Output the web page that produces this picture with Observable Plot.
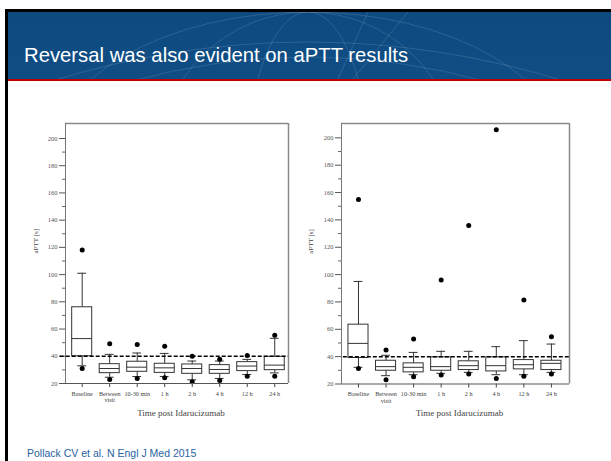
<!DOCTYPE html>
<html>
<head>
<meta charset="utf-8">
<script src="https://cdn.jsdelivr.net/npm/d3@7"></script>
<script src="https://cdn.jsdelivr.net/npm/@observablehq/plot@0.6"></script>
<style>
  html, body { margin: 0; padding: 0; background: #fff; }
  #slide { position: relative; width: 611px; height: 461px; overflow: hidden; background: #fff; }
  .abs { position: absolute; }
  #title { font-family: "Liberation Sans", Arial, sans-serif; font-size: 20.3px; line-height: 24px; color: #fff; white-space: nowrap; }
  #footer { font-family: "Liberation Sans", Arial, sans-serif; font-size: 10.5px; line-height: 12px; color: #2a62a3; white-space: nowrap; }
</style>
</head>
<body>
<div id="slide">
  <div class="abs" style="left:5px;top:9px;width:606px;height:3px;background:#000"></div>
  <div class="abs" style="left:5px;top:9px;width:3px;height:452px;background:#000"></div>
  <div class="abs" id="header" style="left:8px;top:12px;width:603px;height:67px;background:linear-gradient(#0c4a80,#0f4d84);overflow:hidden">
    <svg width="603" height="67" style="position:absolute;left:0;top:0">
      <g fill="none" stroke="rgba(255,255,255,0.13)" stroke-width="1">
        <ellipse cx="300" cy="150" rx="260" ry="150"/>
        <ellipse cx="300" cy="150" rx="150" ry="150"/>
        <ellipse cx="300" cy="150" rx="60" ry="150"/>
        <path d="M40,70 Q300,-10 560,70"/>
        <path d="M120,70 Q300,20 480,70"/>
        <path d="M360,0 L330,67"/>
        <path d="M400,0 L345,67"/>
      </g>
    </svg>
    <div class="abs" id="title" style="left:16px;top:31.3px">Reversal was also evident on aPTT results</div>
  </div>
  <div class="abs" style="left:8px;top:79px;width:603px;height:2px;background:#c00000"></div>
  <div class="abs" id="leftChart" style="left:10px;top:110px"></div>
  <div class="abs" id="rightChart" style="left:300px;top:110px"></div>
  <div class="abs" id="footer" style="left:27px;top:447px">Pollack CV et al. N Engl J Med 2015</div>
</div>
<script>
// ---- data ----
const categories = ["Baseline", "Between\nvisit", "10-30 min", "1 h", "2 h", "4 h", "12 h", "24 h"];
const yTicks = [20, 40, 60, 80, 100, 120, 140, 160, 180, 200];
const yMinorTicks = [30, 50, 70, 90, 110, 130, 150, 170, 190];
const referenceLine = [40];
const yLabel = "aPTT [s]";
const xLabel = "Time post Idarucizumab";

// Left panel
const leftMin          = [31,   22.9, 23.7, 24.2, 21.2, 22.2, 25.4, 25.4];
const leftWhiskerLow   = [33,   24.6, 25.1, 25.1, 22.7, 23.7, 26.6, 27.8];
const leftQ1           = [40,   27.6, 28.6, 27.8, 27.1, 27.1, 29.1, 29.8];
const leftMedian       = [53,   31,   32,   31.5, 31,   30.3, 32.8, 33.5];
const leftQ3           = [76,   34.2, 36,   34.5, 34,   33.5, 35.7, 39.6];
const leftWhiskerHigh  = [101,  41.4, 42.4, 42.1, 36.5, 36.5, 37.7, 53.2];
const leftMax          = [118,  49.2, 48.7, 47.3, 40.1, 37.9, 40.6, 55.4];

// Right panel
const rightMin         = [31.4, 23.1, 25.3, 26.6, 27.3, 24.1, 25.6, 27.3];
const rightWhiskerLow  = [32.2, 26.1, 26.8, 27.8, 28.5, 26.8, 26.8, 28.5];
const rightQ1          = [39,   29.7, 28.5, 29.7, 30.2, 29.2, 30.7, 30.2];
const rightMedian      = [49.7, 32.7, 32.2, 32.7, 33.4, 33.4, 34.1, 35.1];
const rightQ3          = [63.4, 37,   35.1, 39.5, 36.6, 39.5, 37.5, 37];
const rightWhiskerHigh = [95,   41,   43.1, 43.9, 43.9, 47.3, 51.7, 49.2];
const rightMax         = [155,  44.9, 52.9, 96,   136,  206,  81.5, 54.6];

function rows(min, wl, q1, med, q3, wh, max) {
  return categories.map((c, i) => ({i, c, min: min[i], wl: wl[i], q1: q1[i], med: med[i], q3: q3[i], wh: wh[i], max: max[i]}));
}

const serif = "Liberation Serif, Times New Roman, serif";
const lineColor = "#333";

function panel(data, cfg) {
  const [x0, x1] = cfg.xDomain;
  const yTop = cfg.yDomain[1];
  const boxHalf = 0.364, capHalf = 0.16;
  return Plot.plot({
    width: cfg.width, height: cfg.height,
    marginLeft: cfg.ml, marginRight: cfg.mr, marginTop: cfg.mt, marginBottom: cfg.mb,
    x: {type: "linear", domain: cfg.xDomain, axis: null},
    y: {domain: cfg.yDomain, axis: null},
    style: {background: "transparent", overflow: "visible", fontFamily: serif},
    marks: [
      // frame lines
      Plot.ruleY([yTop], {stroke: "#8a8a8a", strokeWidth: 1.5}),
      Plot.ruleX([x1], {stroke: "#8a8a8a", strokeWidth: 1.5, y1: 20, y2: yTop}),
      Plot.ruleX([x0], {stroke: "#777", strokeWidth: 1, y1: 20, y2: yTop}),
      // axes
      Plot.axisY(yTicks, {tickSize: 6, tickPadding: 2, fontSize: 6.5, color: "#555", fontFamily: serif, label: null}),
      Plot.axisY(yMinorTicks, {tickSize: 3, tickFormat: () => "", color: "#666", label: null}),
      Plot.axisX(categories.map((c, i) => i), {tickSize: 4, tickPadding: 4, fontSize: 6.2, color: "#444",
        fontFamily: serif, tickFormat: i => categories[i], lineHeight: 1, label: null}),
      Plot.text([yLabel], {frameAnchor: "left", rotate: -90, dx: cfg.yLabelDx, fontSize: 7, fill: "#444", fontFamily: serif}),
      Plot.text([xLabel], {frameAnchor: "bottom", dy: 32, dx: 4, fontSize: 9, fill: "#444", fontFamily: serif}),
      // whiskers
      Plot.ruleX(data, {x: "i", y1: "q3", y2: "wh", stroke: lineColor, strokeWidth: 1}),
      Plot.ruleX(data, {x: "i", y1: "q1", y2: "wl", stroke: lineColor, strokeWidth: 1}),
      Plot.ruleY(data, {y: "wh", x1: d => d.i - capHalf, x2: d => d.i + capHalf, stroke: lineColor, strokeWidth: 1}),
      Plot.ruleY(data, {y: "wl", x1: d => d.i - capHalf, x2: d => d.i + capHalf, stroke: lineColor, strokeWidth: 1}),
      // boxes
      Plot.rect(data, {x1: d => d.i - boxHalf, x2: d => d.i + boxHalf, y1: "q1", y2: "q3", fill: "white", stroke: lineColor, strokeWidth: 1}),
      Plot.ruleY(data, {y: "med", x1: d => d.i - boxHalf, x2: d => d.i + boxHalf, stroke: lineColor, strokeWidth: 1}),
      // reference line
      Plot.ruleY(referenceLine, {x1: cfg.dashX1, x2: x1, stroke: "#000", strokeWidth: 1.5, strokeDasharray: "4,2"}),
      // extreme points
      Plot.dot(data, {x: "i", y: "max", r: 2.5, fill: "#000", stroke: "none"}),
      Plot.dot(data, {x: "i", y: "min", r: 2.5, fill: "#000", stroke: "none"}),
      // bottom axis line
      Plot.ruleY([20], {x1: x0, x2: x1, stroke: "#555", strokeWidth: 1.2})
    ]
  });
}

document.getElementById("leftChart").appendChild(panel(
  rows(leftMin, leftWhiskerLow, leftQ1, leftMedian, leftQ3, leftWhiskerHigh, leftMax),
  {width: 290, height: 320, ml: 55, mr: 12, mt: 13, mb: 47, xDomain: [-0.607, 7.5], yDomain: [20, 211], yLabelDx: -30, dashX1: -0.8}
));
document.getElementById("rightChart").appendChild(panel(
  rows(rightMin, rightWhiskerLow, rightQ1, rightMedian, rightQ3, rightWhiskerHigh, rightMax),
  {width: 300, height: 320, ml: 41, mr: 31, mt: 13, mb: 46.5, xDomain: [-0.616, 7.656], yDomain: [20, 210.5], yLabelDx: -31, dashX1: -0.55}
));
</script>
</body>
</html>
